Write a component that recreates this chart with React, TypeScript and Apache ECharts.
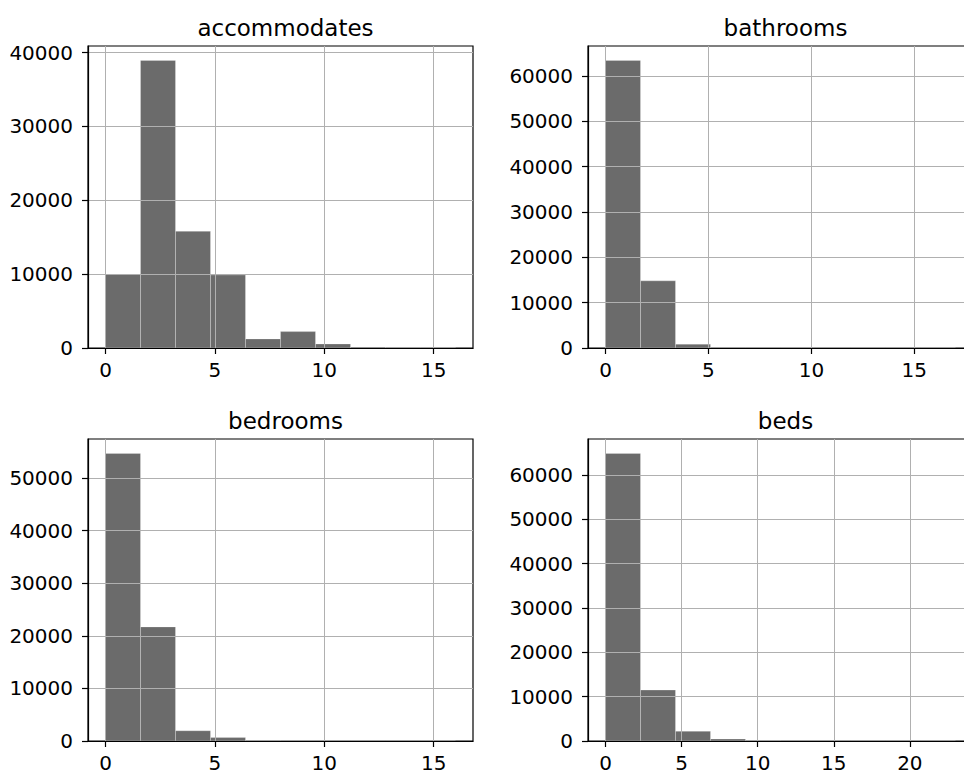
import React, { useEffect, useRef } from "react";
import * as echarts from "echarts";

// Histogram counts (10 equal-width bins over each column's [min, max] range)
const accommodatesRange = [0, 16];
const accommodatesCounts = [9950, 38950, 15800, 9900, 1230, 2220, 550, 120, 15, 40];

const bathroomsRange = [0, 17];
const bathroomsCounts = [63400, 14800, 850, 40, 10, 5, 2, 0, 0, 3];

const bedroomsRange = [0, 16];
const bedroomsCounts = [54700, 21700, 1950, 650, 60, 15, 5, 2, 0, 2];

const bedsRange = [0, 23];
const bedsCounts = [64900, 11500, 2200, 450, 60, 15, 5, 2, 0, 2];

const xTicks16 = [0, 5, 10, 15];
const xTicks23 = [0, 5, 10, 15, 20];
const yStep = 10000;

type Panel = {
  title: string;
  range: number[];
  counts: number[];
  xTicks: number[];
  left: number;
  top: number;
};

const PANEL_W = 385;
const PANEL_H = 302;

const panels: Panel[] = [
  { title: "accommodates", range: accommodatesRange, counts: accommodatesCounts, xTicks: xTicks16, left: 88, top: 46 },
  { title: "bathrooms", range: bathroomsRange, counts: bathroomsCounts, xTicks: xTicks16, left: 588, top: 46 },
  { title: "bedrooms", range: bedroomsRange, counts: bedroomsCounts, xTicks: xTicks16, left: 88, top: 439 },
  { title: "beds", range: bedsRange, counts: bedsCounts, xTicks: xTicks23, left: 588, top: 439 },
];

const FONT = "DejaVu Sans";
const BAR_FILL = "#6b6b6b";
const TICK_FONT = 20;

function buildOption() {
  const grid: any[] = [];
  const xAxis: any[] = [];
  const yAxis: any[] = [];
  const series: any[] = [];
  const title: any[] = [];

  panels.forEach((p, i) => {
    const [lo, hi] = p.range;
    const binW = (hi - lo) / p.counts.length;
    const bins = p.counts.map((c, k) => [lo + k * binW, lo + (k + 1) * binW, c]);
    const pad = (hi - lo) * 0.05;
    const yMax = Math.max(...p.counts) * 1.05;
    const yTicks: number[] = [];
    for (let v = 0; v <= yMax; v += yStep) yTicks.push(v);

    grid.push({
      left: p.left,
      top: p.top,
      width: PANEL_W,
      height: PANEL_H,
      show: true,
      borderColor: "#000",
      borderWidth: 1.2,
      backgroundColor: "transparent",
    });

    title.push({
      text: p.title,
      left: p.left + PANEL_W / 2,
      top: p.top - 35,
      textAlign: "center",
      textStyle: { fontFamily: FONT, fontSize: 23, fontWeight: "normal", color: "#000" },
    });

    xAxis.push({
      type: "value",
      gridIndex: i,
      min: lo - pad,
      max: hi + pad,
      z: 3,
      axisLine: { show: true, onZero: false, lineStyle: { color: "#000", width: 1.2 } },
      axisTick: { show: true, inside: false, length: 6, customValues: p.xTicks, lineStyle: { color: "#000", width: 1.2 } },
      axisLabel: {
        customValues: p.xTicks,
        margin: 12,
        fontFamily: FONT,
        fontSize: TICK_FONT,
        color: "#000",
        formatter: (v: number) => String(v),
      },
      splitLine: { show: true, lineStyle: { color: "#b0b0b0", width: 1 } },
    });

    yAxis.push({
      type: "value",
      gridIndex: i,
      min: 0,
      max: yMax,
      z: 3,
      axisLine: { show: true, onZero: false, lineStyle: { color: "#000", width: 1.2 } },
      axisTick: { show: true, inside: false, length: 6, customValues: yTicks, lineStyle: { color: "#000", width: 1.2 } },
      axisLabel: {
        customValues: yTicks,
        margin: 15,
        fontFamily: FONT,
        fontSize: TICK_FONT,
        color: "#000",
        formatter: (v: number) => String(v),
      },
      splitLine: { show: true, lineStyle: { color: "#b0b0b0", width: 1 } },
    });

    series.push({
      type: "custom",
      xAxisIndex: i,
      yAxisIndex: i,
      encode: { x: [0, 1], y: 2 },
      data: bins,
      renderItem: (params: any, api: any) => {
        const x0 = api.value(0);
        const x1 = api.value(1);
        const c = api.value(2);
        const pTop = api.coord([x0, c]);
        const pBot = api.coord([x1, 0]);
        return {
          type: "rect",
          shape: { x: pTop[0], y: pTop[1], width: pBot[0] - pTop[0], height: pBot[1] - pTop[1] },
          style: { fill: BAR_FILL, stroke: "rgba(255,255,255,0.25)", lineWidth: 1 },
        };
      },
    });
  });

  return { animation: false, backgroundColor: "#fff", title, grid, xAxis, yAxis, series };
}

export default function App() {
  const ref = useRef<HTMLDivElement>(null);

  useEffect(() => {
    if (!ref.current) return;
    const chart = echarts.init(ref.current, null, { renderer: "svg" });
    chart.setOption(buildOption());
    return () => chart.dispose();
  }, []);

  // The figure is wider than the page; the right-hand panels run past its edge.
  return (
    <div style={{ position: "fixed", left: 0, top: 0, width: 964, height: 775, overflow: "hidden", background: "#fff" }}>
      <div ref={ref} style={{ width: 990, height: 775 }} />
    </div>
  );
}
